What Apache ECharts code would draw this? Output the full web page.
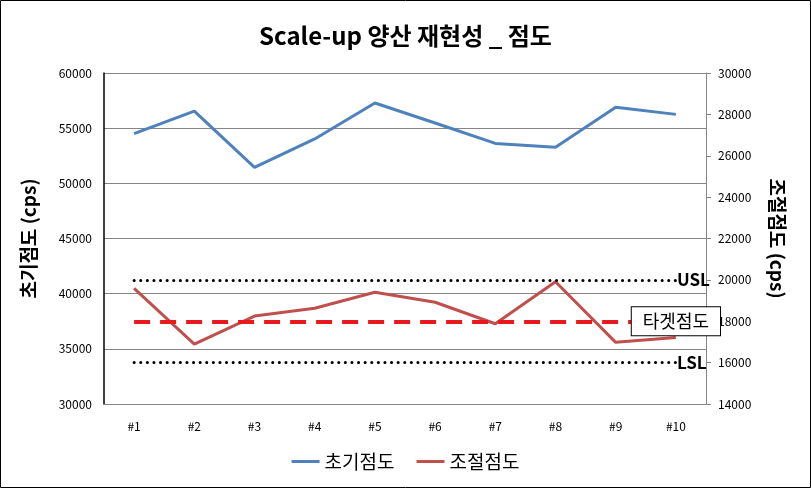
<!DOCTYPE html>
<html>
<head>
<meta charset="utf-8">
<script src="https://cdn.jsdelivr.net/npm/echarts@6/dist/echarts.min.js"></script>
<style>
  html, body { margin: 0; padding: 0; background: #fff; }
  #chart { width: 811px; height: 488px; }
</style>
</head>
<body>
<div id="chart"></div>
<script>
const categories = ["#1", "#2", "#3", "#4", "#5", "#6", "#7", "#8", "#9", "#10"];
const initialVisc = [54500, 56550, 51450, 54020, 57280, 55470, 53620, 53260, 56890, 56250];
const adjustedVisc = [19590, 16890, 18250, 18630, 19400, 18920, 17880, 19910, 16980, 17220];
const usl = 20000;
const target = 18000;
const lsl = 16000;

const font = "'Noto Sans CJK KR', sans-serif";

document.addEventListener("DOMContentLoaded", () => {
  const chart = echarts.init(document.getElementById("chart"));

  const dotted = { color: "#000", width: 3, type: [0.1, 6.5], cap: "round" };
  const limitLabel = {
    show: true,
    position: "end",
    distance: 1,
    formatter: "{b}",
    color: "#000",
    fontSize: 17,
    fontWeight: "bold",
    fontFamily: font
  };

  const option = {
    backgroundColor: "#fff",
    animation: false,
    textStyle: { fontFamily: font },
    title: {
      text: "Scale-up 양산 재현성 _ 점도",
      left: "center",
      top: 19,
      textStyle: { fontFamily: font, fontSize: 24, fontWeight: "bold", color: "#000" }
    },
    graphic: [{
      type: "rect",
      shape: { x: 0.5, y: 0.5, width: 810, height: 487 },
      style: { fill: "none", stroke: "#000", lineWidth: 1 },
      silent: true
    }],
    legend: {
      bottom: 12,
      left: "center",
      icon: "rect",
      itemWidth: 28,
      itemHeight: 3,
      itemGap: 22,
      textStyle: { fontFamily: font, fontSize: 19, color: "#000" },
      data: ["초기점도", "조절점도"]
    },
    grid: { left: 104, right: 105, top: 73, bottom: 84 },
    xAxis: {
      type: "category",
      data: categories,
      boundaryGap: true,
      axisLine: { lineStyle: { color: "#868686" } },
      axisTick: { show: false },
      axisLabel: { color: "#000", fontSize: 12, margin: 16 }
    },
    yAxis: [
      {
        type: "value",
        min: 30000,
        max: 60000,
        interval: 5000,
        name: "초기점도 (cps)",
        nameLocation: "middle",
        nameGap: 66,
        nameTextStyle: { fontFamily: font, fontSize: 19, fontWeight: "bold", color: "#000" },
        axisLine: { show: true, lineStyle: { color: "#000", width: 1.5 } },
        axisTick: { show: false },
        axisLabel: { color: "#000", fontSize: 12, margin: 12, formatter: (v) => String(v) },
        splitLine: { lineStyle: { color: "#868686" } }
      },
      {
        type: "value",
        min: 14000,
        max: 30000,
        interval: 2000,
        position: "right",
        name: "조절점도 (cps)",
        nameLocation: "middle",
        nameRotate: -90,
        nameGap: 62,
        nameTextStyle: { fontFamily: font, fontSize: 19, fontWeight: "bold", color: "#000" },
        axisLine: { show: true, lineStyle: { color: "#868686" } },
        axisTick: { show: true, length: 5, lineStyle: { color: "#868686" } },
        axisLabel: { color: "#000", fontSize: 12, margin: 12, formatter: (v) => String(v) },
        splitLine: { show: false }
      }
    ],
    series: [
      {
        name: "초기점도",
        type: "line",
        yAxisIndex: 0,
        data: initialVisc,
        showSymbol: false,
        itemStyle: { color: "#4F81BD" },
        lineStyle: { color: "#4F81BD", width: 3 },
        z: 3
      },
      {
        name: "조절점도",
        type: "line",
        yAxisIndex: 1,
        data: adjustedVisc,
        showSymbol: false,
        itemStyle: { color: "#C0504D" },
        lineStyle: { color: "#C0504D", width: 3 },
        z: 3,
        markLine: {
          silent: true,
          symbol: "none",
          lineStyle: dotted,
          label: limitLabel,
          data: [
            [{ coord: ["#1", usl], name: "USL" }, { coord: ["#10", usl] }],
            [{ coord: ["#1", lsl], name: "LSL" }, { coord: ["#10", lsl] }],
            [
              {
                coord: ["#1", target],
                name: "타겟점도",
                lineStyle: { color: "#E8191E", width: 4, type: [16, 10], cap: "butt" },
                label: {
                  show: true,
                  position: "end",
                  distance: 0,
                  align: "center",
                  formatter: "{b}",
                  color: "#000",
                  fontSize: 18,
                  fontWeight: "normal",
                  fontFamily: font,
                  backgroundColor: "#fff",
                  borderColor: "#000",
                  borderWidth: 1,
                  padding: [5, 11, 5, 11]
                }
              },
              { coord: ["#10", target] }
            ]
          ]
        }
      }
    ]
  };

  chart.setOption(option);
  window.addEventListener("resize", () => chart.resize());
});
</script>
</body>
</html>
